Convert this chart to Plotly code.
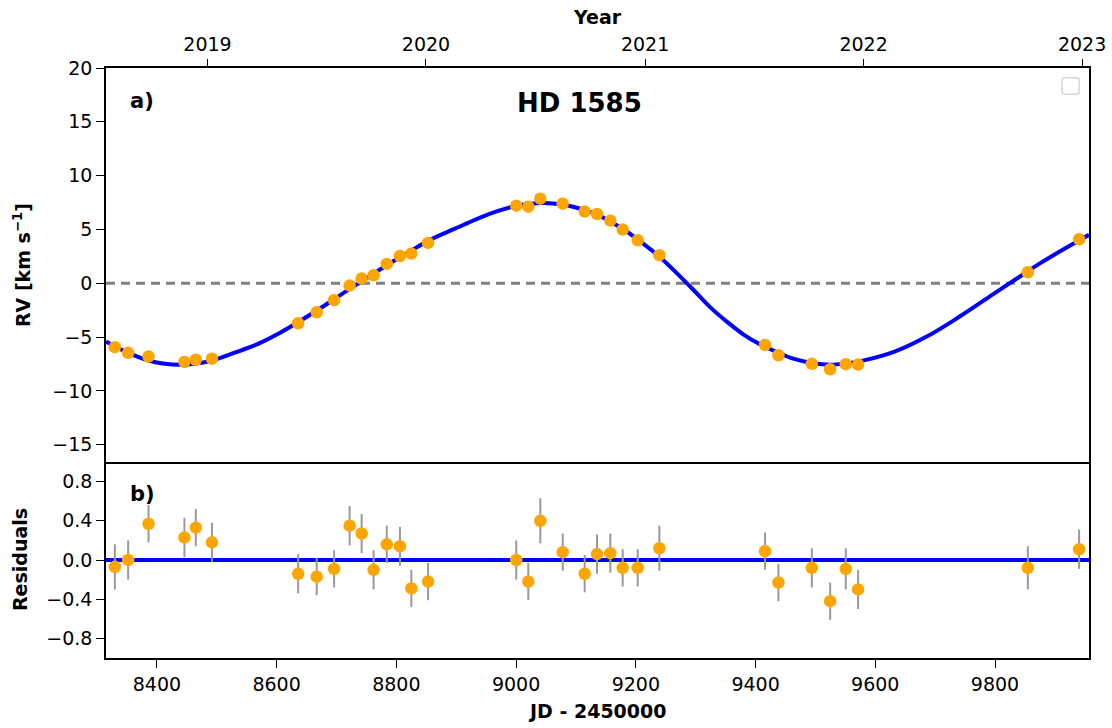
import plotly.graph_objects as go

# ---- observed data (JD - 2450000, RV km/s, residuals, errors) ----
jd = [8329.8, 8352, 8386, 8446, 8465, 8492, 8636, 8667, 8696, 8722, 8742, 8762,
      8784, 8806, 8825, 8853, 9000.3, 9020.4, 9040.5, 9077.9, 9114.6, 9135.2,
      9157.4, 9178.1, 9203.2, 9239.3, 9415.9, 9438.2, 9494, 9524.6, 9550.7,
      9571.3, 9854.8, 9940.5]
rv = [-5.93, -6.46, -6.80, -7.30, -7.10, -7.00, -3.71, -2.69, -1.57, -0.21, 0.44,
      0.75, 1.80, 2.54, 2.76, 3.75, 7.21, 7.12, 7.86, 7.40, 6.66, 6.44, 5.82, 4.99,
      4.00, 2.61, -5.72, -6.68, -7.48, -7.98, -7.51, -7.55, 1.03, 4.09]
resid = [-0.07, 0.0, 0.37, 0.23, 0.33, 0.18, -0.14, -0.17, -0.09, 0.35, 0.27, -0.10,
         0.16, 0.14, -0.29, -0.22, 0.0, -0.22, 0.40, 0.08, -0.14, 0.06, 0.07, -0.08,
         -0.08, 0.12, 0.09, -0.23, -0.08, -0.42, -0.09, -0.30, -0.08, 0.11]
err = [0.23, 0.20, 0.19, 0.20, 0.19, 0.20, 0.20, 0.19, 0.19, 0.20, 0.20, 0.20,
       0.19, 0.20, 0.19, 0.19, 0.20, 0.19, 0.23, 0.19, 0.19, 0.20, 0.20, 0.19,
       0.19, 0.23, 0.19, 0.19, 0.20, 0.19, 0.21, 0.20, 0.22, 0.20]

# ---- model curve ----
model_jd = [8315, 8330, 8352, 8386, 8410, 8440, 8465, 8492, 8530, 8570, 8605, 8636,
            8667, 8696, 8722, 8742, 8762, 8784, 8806, 8825, 8853, 8897, 8940, 8970,
            9000, 9020, 9045, 9078, 9115, 9135, 9157, 9178, 9203, 9239, 9268, 9296,
            9324, 9352, 9380, 9407, 9438, 9463, 9494, 9525, 9551, 9574, 9630, 9686,
            9741, 9797, 9853, 9875, 9940, 9957]
model_rv = [-5.40, -5.86, -6.46, -7.17, -7.45, -7.57, -7.46, -7.18, -6.45, -5.60,
            -4.62, -3.61, -2.53, -1.48, -0.52, 0.18, 0.90, 1.68, 2.42, 3.04, 3.94,
            5.05, 6.10, 6.72, 7.20, 7.36, 7.47, 7.32, 6.80, 6.38, 5.75, 5.07, 4.08,
            2.49, 0.97, -0.60, -2.21, -3.56, -4.76, -5.65, -6.45, -7.00, -7.40,
            -7.56, -7.45, -7.25, -6.40, -4.95, -3.09, -1.01, 1.05, 1.85, 3.98, 4.50]

# ---- axes ticks ----
x_range = [8315, 9957]
x_ticks = [8400, 8600, 8800, 9000, 9200, 9400, 9600, 9800]
year_labels = ["2019", "2020", "2021", "2022", "2023"]
year_jd = [8484.5, 8849.5, 9215.5, 9580.5, 9945.5]
rv_ticks = [-15, -10, -5, 0, 5, 10, 15, 20]
res_ticks = [-0.8, -0.4, 0.0, 0.4, 0.8]

FONT = "DejaVu Sans"
TICKF = dict(family=FONT, size=19, color="black")

fig = go.Figure()

# top panel
fig.add_trace(go.Scatter(x=x_range, y=[0, 0], mode="lines",
                         line=dict(color="#808080", width=3, dash="9px,6px"),
                         xaxis="x", yaxis="y", showlegend=False, hoverinfo="skip"))
fig.add_trace(go.Scatter(x=model_jd, y=model_rv, mode="lines",
                         line=dict(color="blue", width=4, shape="spline", smoothing=1.0),
                         xaxis="x", yaxis="y", showlegend=False))
fig.add_trace(go.Scatter(x=jd, y=rv, mode="markers",
                         marker=dict(color="orange", size=12.5),
                         error_y=dict(type="data", array=err, color="#999999", thickness=2, width=0),
                         xaxis="x", yaxis="y", showlegend=False))

# residual panel
fig.add_trace(go.Scatter(x=x_range, y=[0, 0], mode="lines",
                         line=dict(color="blue", width=4),
                         xaxis="x2", yaxis="y2", showlegend=False, hoverinfo="skip"))
fig.add_trace(go.Scatter(x=jd, y=resid, mode="markers",
                         marker=dict(color="orange", size=12.5),
                         error_y=dict(type="data", array=err, color="#999999", thickness=2, width=0),
                         xaxis="x2", yaxis="y2", showlegend=False))

# invisible trace to activate the top year axis
fig.add_trace(go.Scatter(x=[year_jd[0]], y=[None], mode="markers",
                         xaxis="x3", yaxis="y", showlegend=False, hoverinfo="skip"))

split = 196 / 590

axis_common = dict(showline=True, linecolor="black", linewidth=1.6,
                   showgrid=False, zeroline=False, tickfont=TICKF, automargin=False,
                   tickcolor="black", tickwidth=1.3, ticklen=8)

fig.update_layout(
    width=1112, height=728, autosize=False,
    margin=dict(l=106, r=23, t=68, b=70, autoexpand=False),
    paper_bgcolor="white", plot_bgcolor="white",
    xaxis=dict(**axis_common, mirror=True, domain=[0, 1], range=x_range, anchor="y",
               showticklabels=False, ticks=""),
    yaxis=dict(**axis_common, mirror=True, domain=[split, 1], range=[-16.6, 20], anchor="x",
               tickvals=rv_ticks, ticks="outside"),
    xaxis2=dict(**axis_common, mirror=False, domain=[0, 1], range=x_range, anchor="y2",
                tickvals=x_ticks, tickformat="d", ticks="outside"),
    yaxis2=dict(**axis_common, mirror=True, domain=[0, split], range=[-1.0, 1.0], anchor="x2",
                tickvals=res_ticks, tickformat=".1f", ticks="outside"),
    xaxis3=dict(showline=False, showgrid=False, zeroline=False, overlaying="x",
                anchor="y", side="top", range=x_range, tickvals=year_jd, automargin=False,
                ticktext=year_labels, ticks="outside", ticklen=8, tickwidth=1.3,
                tickcolor="black", tickfont=TICKF),
)

ann_font = dict(family=FONT, color="black")
fig.add_annotation(text="<b>a)</b>", xref="paper", yref="paper", x=0.0224, y=0.944,
                   xanchor="left", yanchor="middle", showarrow=False,
                   font=dict(**ann_font, size=21))
fig.add_annotation(text="<b>HD 1585</b>", xref="paper", yref="paper", x=0.482, y=0.941,
                   xanchor="center", yanchor="middle", showarrow=False,
                   font=dict(**ann_font, size=26))
fig.add_annotation(text="<b>b)</b>", xref="paper", yref="paper", x=0.0224, y=0.278,
                   xanchor="left", yanchor="middle", showarrow=False,
                   font=dict(**ann_font, size=21))
fig.add_annotation(text="<b>RV [km s<sup>−1</sup>]</b>", xref="paper", yref="paper",
                   x=0, xshift=-84, y=0.666, textangle=-90, xanchor="center",
                   yanchor="middle", showarrow=False, font=dict(**ann_font, size=19))
fig.add_annotation(text="<b>Residuals</b>", xref="paper", yref="paper",
                   x=0, xshift=-86, y=0.166, textangle=-90, xanchor="center",
                   yanchor="middle", showarrow=False, font=dict(**ann_font, size=19))
fig.add_annotation(text="<b>Year</b>", xref="paper", yref="paper", x=0.5, y=1.0864,
                   xanchor="center", yanchor="middle", showarrow=False,
                   font=dict(**ann_font, size=19))
fig.add_annotation(text="<b>JD - 2450000</b>", xref="paper", yref="paper", x=0.5, y=-0.0898,
                   xanchor="center", yanchor="middle", showarrow=False,
                   font=dict(**ann_font, size=19))

# empty legend frame (top right), rounded corners
x0, x1, y0, y1 = 0.9725, 0.990, 0.9554, 0.9836
rx, ry = 3 / 983, 3 / 590
path = (f"M {x0+rx},{y0} L {x1-rx},{y0} Q {x1},{y0} {x1},{y0+ry} "
        f"L {x1},{y1-ry} Q {x1},{y1} {x1-rx},{y1} L {x0+rx},{y1} "
        f"Q {x0},{y1} {x0},{y1-ry} L {x0},{y0+ry} Q {x0},{y0} {x0+rx},{y0} Z")
fig.add_shape(type="path", xref="paper", yref="paper", path=path,
              line=dict(color="#d6d6d6", width=1.5), fillcolor="rgba(255,255,255,0.8)")

fig.write_html("out.html", config={"displayModeBar": False},
               post_script="document.body.style.margin='0';"
                           "document.body.style.overflow='hidden';")
